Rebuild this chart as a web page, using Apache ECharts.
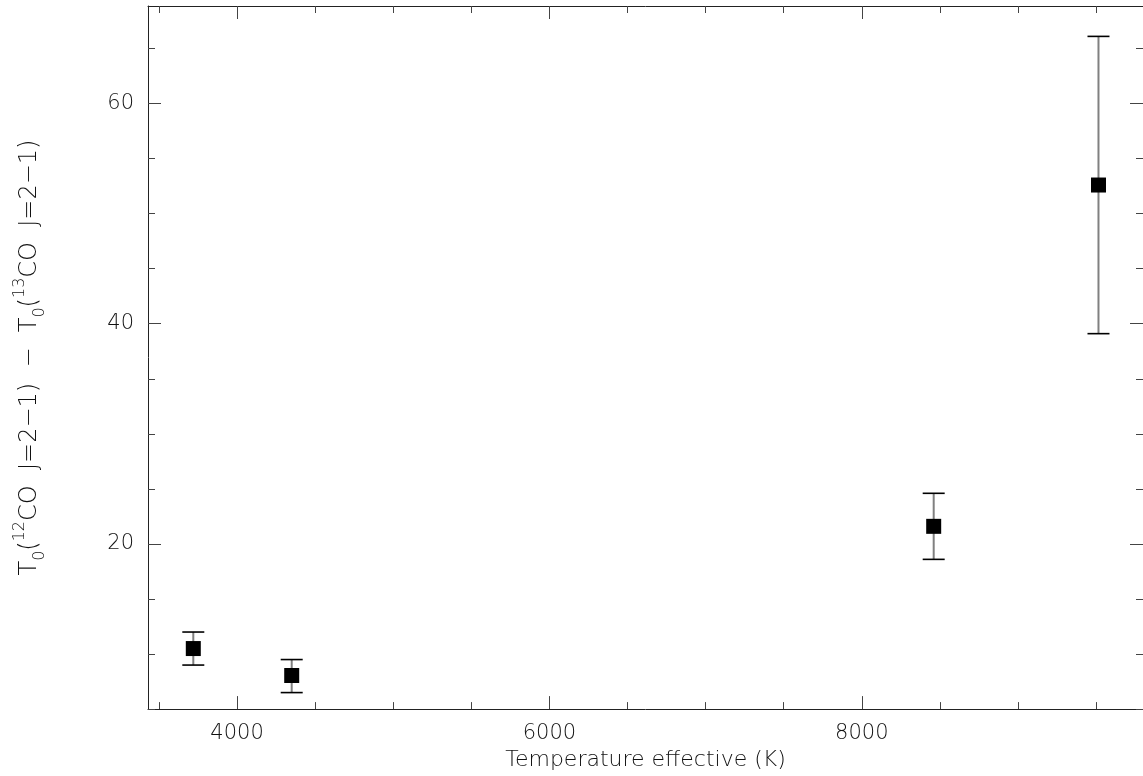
<!DOCTYPE html>
<html>
<head>
<meta charset="utf-8">
<script src="https://cdn.jsdelivr.net/npm/echarts@6/dist/echarts.min.js"></script>
<style>
html,body{margin:0;padding:0;background:#fff;}
#chart{width:1143px;height:776px;}
</style>
</head>
<body>
<div id="chart"></div>
<script>
// Data
const temps   = [3720, 4350, 8460, 9515];
const values  = [10.5, 8.05, 21.6, 52.6];
const errLow  = [9.0, 6.5, 18.6, 39.1];
const errHigh = [12.0, 9.5, 24.6, 66.1];

// Axis ticks and labels
const xMajor = [4000, 6000, 8000];
const xMinor = [3500, 4500, 5000, 5500, 6500, 7000, 7500, 8500, 9000, 9500];
const yMajor = [20, 40, 60];
const yMinor = [5, 10, 15, 25, 30, 35, 45, 50, 55, 65];

const X_MIN = 3430, X_MAX = 9800;
const Y_MIN = 5, Y_MAX = 68.86;

const FONT = 'DejaVu Sans';
const TXT = '#111';
const LINE = '#222';

function labelStyle(labels) {
  return labels ? {show: true, customValues: labels, margin: 14, fontFamily: FONT, fontSize: 21, fontWeight: 300, color: TXT,
                   formatter: function (v) { return String(v); }} : {show: false};
}
function xAxisDef(pos, ticks, len, showLine, labels) {
  return {
    type: 'value', position: pos, min: X_MIN, max: X_MAX,
    axisLine: {show: showLine, lineStyle: {color: LINE, width: 1}},
    axisTick: {show: true, inside: true, length: len, customValues: ticks, lineStyle: {color: '#444', width: 1}},
    axisLabel: labelStyle(labels),
    splitLine: {show: false}
  };
}
function yAxisDef(pos, ticks, len, showLine, labels) {
  return {
    type: 'value', position: pos, min: Y_MIN, max: Y_MAX,
    axisLine: {show: showLine, lineStyle: {color: LINE, width: 1}},
    axisTick: {show: true, inside: true, length: len, customValues: ticks, lineStyle: {color: '#444', width: 1}},
    axisLabel: labelStyle(labels),
    splitLine: {show: false}
  };
}

const xa0 = xAxisDef('bottom', xMajor, 13, true, xMajor);
xa0.name = 'Temperature effective (K)';
xa0.nameLocation = 'middle';
xa0.nameGap = 37;
xa0.nameTextStyle = {fontFamily: FONT, fontSize: 22, fontWeight: 300, color: TXT};

const ya0 = yAxisDef('left', yMajor, 13, true, yMajor);
ya0.name = '{n|T}{sub|0}{n|(}{sup|12}{n|CO  J=2−1)  −  T}{sub|0}{n|(}{sup|13}{n|CO  J=2−1)}';
ya0.nameLocation = 'middle';
ya0.nameGap = 100;
ya0.nameRotate = 90;
ya0.nameTextStyle = {
  fontFamily: FONT, fontSize: 24, fontWeight: 300, color: TXT,
  rich: {
    n:   {fontFamily: FONT, fontSize: 24, fontWeight: 300, color: TXT, lineHeight: 36},
    sub: {fontFamily: FONT, fontSize: 16, fontWeight: 300, color: TXT, verticalAlign: 'bottom'},
    sup: {fontFamily: FONT, fontSize: 16, fontWeight: 300, color: TXT, verticalAlign: 'top'}
  }
};

const chart = echarts.init(document.getElementById('chart'), null, {renderer: 'canvas'});
chart.setOption({
  animation: false,
  backgroundColor: '#fff',
  grid: {left: 148, right: 0, top: 6, bottom: 65, containLabel: false},
  xAxis: [
    xa0,
    xAxisDef('bottom', xMinor, 7, false, null),
    xAxisDef('top', xMajor, 13, true, null),
    xAxisDef('top', xMinor, 7, false, null)
  ],
  yAxis: [
    ya0,
    yAxisDef('left', yMinor, 7, false, null),
    yAxisDef('right', yMajor, 13, true, null),
    yAxisDef('right', yMinor, 7, false, null)
  ],
  series: [
    {
      type: 'custom',
      xAxisIndex: 0, yAxisIndex: 0,
      data: temps.map((t, i) => [t, errLow[i], errHigh[i]]),
      encode: {x: 0, y: [1, 2]},
      z: 2,
      renderItem: function (params, api) {
        const x = api.value(0);
        const pLo = api.coord([x, api.value(1)]);
        const pHi = api.coord([x, api.value(2)]);
        const hw = 11;
        return {
          type: 'group',
          children: [
            {type: 'line', shape: {x1: pLo[0], y1: pLo[1], x2: pHi[0], y2: pHi[1]}, style: {stroke: '#808080', lineWidth: 2}},
            {type: 'line', shape: {x1: pHi[0] - hw, y1: pHi[1], x2: pHi[0] + hw, y2: pHi[1]}, style: {stroke: '#000', lineWidth: 1.6}},
            {type: 'line', shape: {x1: pLo[0] - hw, y1: pLo[1], x2: pLo[0] + hw, y2: pLo[1]}, style: {stroke: '#000', lineWidth: 1.6}}
          ]
        };
      }
    },
    {
      type: 'scatter',
      xAxisIndex: 0, yAxisIndex: 0,
      data: temps.map((t, i) => [t, values[i]]),
      symbol: 'rect',
      symbolSize: 15,
      itemStyle: {color: '#000', opacity: 1},
      emphasis: {disabled: true},
      z: 5
    }
  ]
});
</script>
</body>
</html>
